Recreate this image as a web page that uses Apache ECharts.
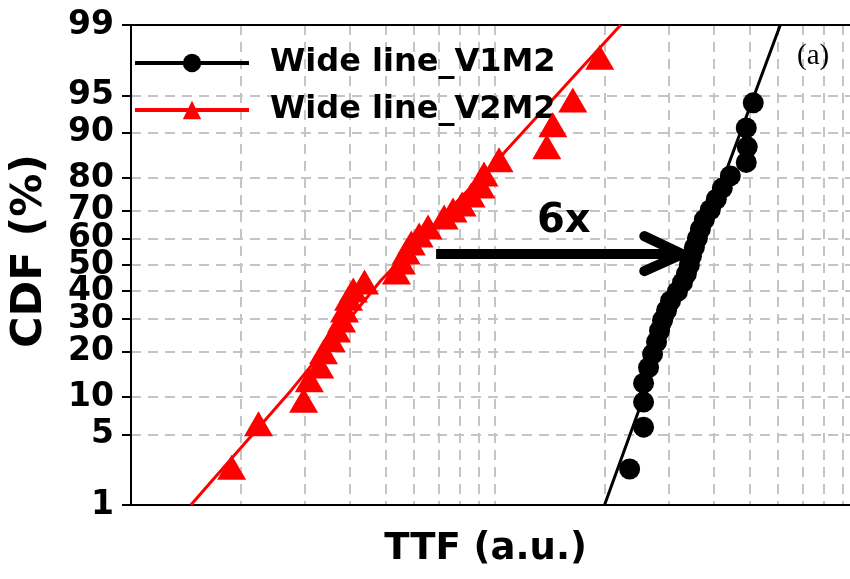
<!DOCTYPE html>
<html><head><meta charset="utf-8">
<script src="https://cdn.jsdelivr.net/npm/echarts@6/dist/echarts.min.js"></script>
<style>html,body{margin:0;padding:0;background:#fff}#c{width:850px;height:579px}</style>
</head><body><div id="c"></div>
<script>
// ---- data ----
const cdfTicks = [1, 5, 10, 20, 30, 40, 50, 60, 70, 80, 90, 95, 99];
const ttfGridValues = [2, 3, 4, 5, 6, 7, 8, 9, 10, 20, 30, 40, 50, 60, 70, 80, 90];
const ttfRange = [1, 94.5];

const v2m2TTF = [1.89, 2.24, 2.98, 3.09, 3.30, 3.38, 3.55, 3.67, 3.79, 3.86, 3.96, 4.08, 4.38, 5.36, 5.53, 5.70, 5.89, 6.19, 6.55, 7.25, 7.67, 8.12, 8.60, 9.15, 9.33, 10.26, 13.88, 14.42, 16.36, 19.40];
const v2m2CDF = [2.5, 6.2, 9.5, 13.3, 16.4, 20.0, 23.4, 26.4, 29.7, 33.1, 37.4, 40.4, 43.5, 47.3, 51.2, 55.0, 58.4, 61.4, 64.4, 67.9, 70.3, 72.3, 75.1, 77.8, 81.1, 84.6, 87.4, 91.3, 94.5, 97.8];

const v1m2TTF = [23.44, 25.60, 25.60, 25.60, 26.42, 27.10, 27.79, 28.32, 28.86, 29.60, 30.36, 31.72, 32.74, 33.57, 34.21, 34.65, 35.31, 35.99, 36.68, 37.61, 39.06, 40.56, 42.13, 44.32, 49.02, 49.34, 49.02, 51.24];
const v1m2CDF = [2.4, 5.8, 9.2, 12.6, 16.0, 19.4, 22.8, 26.2, 29.6, 33.0, 36.4, 39.8, 43.2, 46.6, 50.0, 53.4, 56.8, 60.2, 63.6, 67.0, 70.4, 73.8, 77.2, 80.6, 84.0, 87.4, 90.8, 94.2];

const v2m2FitTTF = [1.46, 2.76, 4.87, 10.58, 22.14];
const v2m2FitCDF = [1, 11.3, 44.2, 86.1, 99];
const v1m2FitTTF = [20.0, 36.7, 60.8];
const v1m2FitCDF = [1, 59.6, 99];

const arrowTTF = [6.89, 32.7];
const arrowCDF = 54.2;

const seriesNames = ['Wide line_V1M2', 'Wide line_V2M2'];

// ---- probability (normal quantile) transform ----
function probit(p) {
  const a = [-3.969683028665376e+01, 2.209460984245205e+02, -2.759285104469687e+02, 1.383577518672690e+02, -3.066479806614716e+01, 2.506628277459239e+00];
  const b = [-5.447609879822406e+01, 1.615858368580409e+02, -1.556989798598866e+02, 6.680131188771972e+01, -1.328068155288572e+01];
  const c = [-7.784894002430293e-03, -3.223964580411365e-01, -2.400758277161838e+00, -2.549732539343734e+00, 4.374664141464968e+00, 2.938163982698783e+00];
  const d = [7.784695709041462e-03, 3.224671290700398e-01, 2.445134137142996e+00, 3.754408661907416e+00];
  const pl = 0.02425, ph = 1 - pl;
  let q, r;
  if (p < pl) {
    q = Math.sqrt(-2 * Math.log(p));
    return (((((c[0]*q+c[1])*q+c[2])*q+c[3])*q+c[4])*q+c[5]) / ((((d[0]*q+d[1])*q+d[2])*q+d[3])*q+1);
  }
  if (p <= ph) {
    q = p - 0.5; r = q * q;
    return (((((a[0]*r+a[1])*r+a[2])*r+a[3])*r+a[4])*r+a[5])*q / (((((b[0]*r+b[1])*r+b[2])*r+b[3])*r+b[4])*r+1);
  }
  q = Math.sqrt(-2 * Math.log(1 - p));
  return -(((((c[0]*q+c[1])*q+c[2])*q+c[3])*q+c[4])*q+c[5]) / ((((d[0]*q+d[1])*q+d[2])*q+d[3])*q+1);
}
const pz = v => probit(v / 100);
const lx = v => Math.log10(v);
const pairs = (xs, ys) => xs.map((x, i) => [lx(x), pz(ys[i])]);

const yTickVals = cdfTicks.map(pz);
const xGridVals = ttfGridValues.map(lx);
const FONT = "'DejaVu Sans', Verdana, sans-serif";
const gridLine = { show: true, lineStyle: { color: '#c4c4c4', width: 2, type: [10, 7] } };

const chart = echarts.init(document.getElementById('c'), null, { renderer: 'canvas' });
chart.setOption({
  animation: false,
  backgroundColor: '#fff',
  grid: { left: 129, top: 25, right: 0, height: 480, show: false, containLabel: false },
  legend: {
    data: seriesNames,
    orient: 'vertical',
    left: 133, top: 43,
    padding: 0,
    itemWidth: 114, itemHeight: 23, itemGap: 7,
    lineStyle: { width: 4 },
    textStyle: { fontFamily: FONT, fontSize: 32, fontWeight: 'bold', color: '#000', lineHeight: 40, padding: [0, 0, 0, 16] },
    selectedMode: false
  },
  xAxis: [{
    type: 'value', min: lx(ttfRange[0]), max: lx(ttfRange[1]),
    name: 'TTF (a.u.)', nameLocation: 'middle', nameGap: 26,
    nameTextStyle: { fontFamily: FONT, fontSize: 37, fontWeight: 'bold', color: '#000', padding: [0, 10, 0, 0] },
    axisLine: { show: true, onZero: false, lineStyle: { color: '#000', width: 2 } },
    axisTick: { show: false, customValues: xGridVals },
    axisLabel: { show: false, customValues: xGridVals },
    splitLine: gridLine
  }, {
    type: 'value', position: 'top', min: lx(ttfRange[0]), max: lx(ttfRange[1]),
    axisLine: { show: true, onZero: false, lineStyle: { color: '#000', width: 2 } },
    axisTick: { show: false }, axisLabel: { show: false }, splitLine: { show: false }
  }],
  yAxis: {
    type: 'value', min: yTickVals[0], max: yTickVals[yTickVals.length - 1],
    name: 'CDF (%)', nameLocation: 'middle', nameRotate: 90, nameGap: 80,
    nameTextStyle: { fontFamily: FONT, fontSize: 43, fontWeight: 'bold', color: '#000', padding: [0, 0, 0, 28] },
    axisLine: { show: true, onZero: false, lineStyle: { color: '#000', width: 2 } },
    axisTick: { show: true, inside: false, length: 9, lineStyle: { color: '#000', width: 2 }, customValues: yTickVals },
    axisLabel: {
      show: true, margin: 17, customValues: yTickVals,
      fontFamily: FONT, fontSize: 33, fontWeight: 'bold', color: '#000',
      formatter: v => { const i = yTickVals.findIndex(t => Math.abs(t - v) < 1e-9); return i >= 0 ? String(cdfTicks[i]) : ''; }
    },
    splitLine: gridLine
  },
  series: [
    { name: seriesNames[0], type: 'line', data: pairs(v1m2FitTTF, v1m2FitCDF), symbol: 'circle', showSymbol: false,
      lineStyle: { color: '#000', width: 3 }, itemStyle: { color: '#000' }, z: 3, silent: true },
    { name: seriesNames[1], type: 'line', data: pairs(v2m2FitTTF, v2m2FitCDF), symbol: 'triangle', showSymbol: false,
      lineStyle: { color: '#ff0000', width: 3 }, itemStyle: { color: '#ff0000' }, z: 3, silent: true },
    { name: seriesNames[0], type: 'scatter', data: pairs(v1m2TTF, v1m2CDF), symbol: 'circle', symbolSize: 21,
      itemStyle: { color: '#000', opacity: 1 }, z: 4 },
    { name: seriesNames[1], type: 'scatter', data: pairs(v2m2TTF, v2m2CDF), symbol: 'triangle', symbolSize: [29, 25],
      itemStyle: { color: '#ff0000', opacity: 1 }, z: 4 }
  ]
});

// annotations: arrow between the two medians, "6x" and "(a)"
const p0 = chart.convertToPixel({ gridIndex: 0 }, [lx(arrowTTF[0]), pz(arrowCDF)]);
const p1 = chart.convertToPixel({ gridIndex: 0 }, [lx(arrowTTF[1]), pz(arrowCDF)]);
chart.setOption({
  graphic: [
    { type: 'line', shape: { x1: p0[0], y1: p0[1], x2: p1[0] - 8, y2: p1[1] }, style: { stroke: '#000', lineWidth: 10, lineCap: 'butt' }, z: 10 },
    { type: 'polyline', shape: { points: [[p1[0] - 38, p1[1] - 18], [p1[0], p1[1]], [p1[0] - 38, p1[1] + 17]] },
      style: { stroke: '#000', fill: null, lineWidth: 10, lineCap: 'round', lineJoin: 'miter' }, z: 10 },
    { type: 'text', left: 537, top: 202, style: { text: '6x', fontFamily: FONT, fontSize: 40, fontWeight: 'bold', fill: '#000' }, z: 10 },
    { type: 'text', left: 797, top: 42, style: { text: '(a)', fontFamily: "'Liberation Serif', 'Times New Roman', serif", fontSize: 29, fill: '#000' }, z: 10 }
  ]
});
</script></body></html>
